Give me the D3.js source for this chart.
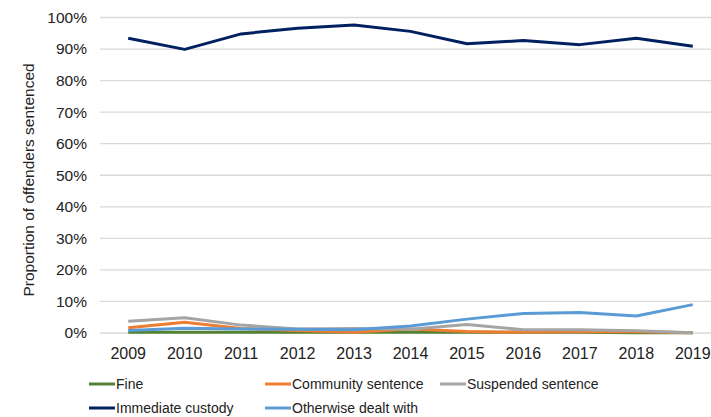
<!DOCTYPE html>
<html lang="en">
<head>
	<meta charset="UTF-8">
	<script src="https://d3js.org/d3.v7.min.js"></script>
	<title>Proportion of offenders sentenced</title>
	<style type="text/css">
		body{ margin: 0; background: #fff; }
		text{ font-family: "Liberation Sans", Arial, sans-serif; fill: #222; }
		.grid line{ stroke: #d9d9d9; stroke-width: 1.3; }
		.series{ fill: none; stroke-width: 3; stroke-linejoin: round; }
	</style>
</head>
<body>
	<svg width="711" height="417"></svg>
<script>
var years = ["2009","2010","2011","2012","2013","2014","2015","2016","2017","2018","2019"];
var fine = [0.2, 0.2, 0.2, 0.2, 0.2, 0.2, 0.2, 0.2, 0.2, 0.1, 0.1];
var community = [1.7, 3.4, 1.4, 0.8, 0.2, 1.3, 0.5, 0.2, 0.5, 0.4, 0.1];
var suspended = [3.7, 4.8, 2.5, 1.3, 1.4, 1.2, 2.7, 1.0, 1.0, 0.7, 0.1];
var custody = [93.4, 89.9, 94.8, 96.6, 97.6, 95.6, 91.7, 92.7, 91.4, 93.4, 90.9];
var otherwise = [0.8, 1.5, 1.3, 1.2, 1.0, 2.2, 4.4, 6.2, 6.5, 5.4, 9.0];
var yTicks = [0, 10, 20, 30, 40, 50, 60, 70, 80, 90, 100];

var series = [
	{name: "Fine", values: fine, color: "#548235"},
	{name: "Community sentence", values: community, color: "#ED7D31"},
	{name: "Suspended sentence", values: suspended, color: "#A5A5A5"},
	{name: "Immediate custody", values: custody, color: "#002060"},
	{name: "Otherwise dealt with", values: otherwise, color: "#5B9BD5"}
];

var svg = d3.select("svg");
var mLeft = 100, mRight = 721, mTop = 17.5, mBottom = 333;

var x = d3.scaleBand().domain(years).range([mLeft, mRight]);
var y = d3.scaleLinear().domain([0, 100]).range([mBottom, mTop]);

// gridlines
svg.append("g").attr("class", "grid")
	.selectAll("line").data(yTicks).enter().append("line")
	.attr("x1", mLeft).attr("x2", mRight)
	.attr("y1", function(d){ return y(d); })
	.attr("y2", function(d){ return y(d); });

// y tick labels
svg.append("g").selectAll("text").data(yTicks).enter().append("text")
	.attr("x", 87).attr("y", function(d){ return y(d); })
	.attr("dy", "0.35em")
	.attr("text-anchor", "end")
	.attr("font-size", "15.5px")
	.text(function(d){ return d + "%"; });

// x tick labels
svg.append("g").selectAll("text").data(years).enter().append("text")
	.attr("x", function(d){ return x(d) + x.bandwidth() / 2; })
	.attr("y", 359)
	.attr("text-anchor", "middle")
	.attr("font-size", "16px")
	.text(function(d){ return d; });

// y axis title
svg.append("text")
	.attr("transform", "translate(34,180) rotate(-90)")
	.attr("text-anchor", "middle")
	.attr("font-size", "15.5px")
	.text("Proportion of offenders sentenced");

var line = d3.line()
	.x(function(d, i){ return x(years[i]) + x.bandwidth() / 2; })
	.y(function(d){ return y(d); });

svg.append("g").selectAll("path").data(series).enter().append("path")
	.attr("class", "series")
	.attr("stroke", function(d){ return d.color; })
	.attr("d", function(d){ return line(d.values); });

// legend
var legendPos = [[89, 384], [265, 384], [440, 384], [89, 408], [265, 408]];
var lg = svg.append("g").selectAll("g").data(series).enter().append("g")
	.attr("transform", function(d, i){ return "translate(" + legendPos[i][0] + "," + legendPos[i][1] + ")"; });
lg.append("line")
	.attr("x1", 0).attr("x2", 26).attr("y1", 0).attr("y2", 0)
	.attr("stroke-width", 3)
	.attr("stroke", function(d){ return d.color; });
lg.append("text")
	.attr("x", 27).attr("dy", "0.35em")
	.attr("font-size", "14px")
	.text(function(d){ return d.name; });
</script>
</body>
</html>
